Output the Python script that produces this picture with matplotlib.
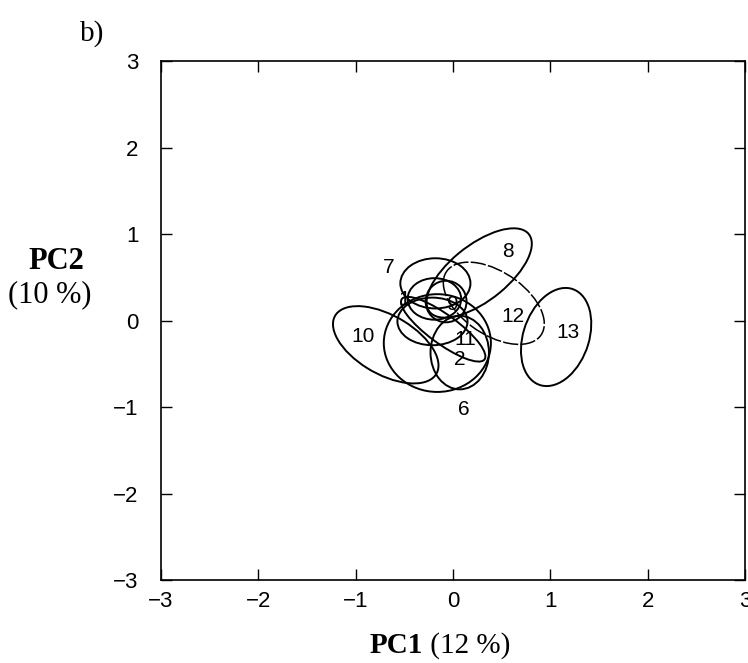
import matplotlib.pyplot as plt
from matplotlib.patches import Ellipse

# ellipse parameters in PC units (centre, full width, full height, tilt)
ell_cx = [-0.21, 0.07, -0.19, -0.16, -0.18, 0.27, -0.07, -0.69, -0.10, 0.42, 1.06]
ell_cy = [-0.01, -0.37, 0.25, -0.26, 0.43, 0.55, 0.22, -0.28, -0.10, 0.20, -0.19]
ell_w = [0.72, 0.60, 0.55, 1.10, 0.72, 1.36, 0.42, 1.24, 1.10, 1.22, 1.16]
ell_h = [0.55, 0.85, 0.48, 1.13, 0.58, 0.62, 0.48, 0.66, 0.32, 0.70, 0.68]
ell_ang = [0, 0, 0, 0, 0, 43, 0, -35, -40, -40, 75]
ell_dashed = [False] * 9 + [True, False]

# group numbers and where they are written
lab_txt = ["1", "2", "6", "7", "8", "9", "10", "11", "12", "13"]
lab_x = [-0.50, 0.07, 0.11, -0.66, 0.56, 0.00, -0.92, 0.13, 0.62, 1.18]
lab_y = [0.24, -0.45, -1.03, 0.61, 0.80, 0.18, -0.18, -0.22, 0.05, -0.14]

ticks = [-3, -2, -1, 0, 1, 2, 3]

fig = plt.figure(figsize=(7.48, 6.63), dpi=100)
ax = fig.add_axes([0.215, 0.125, 0.781, 0.783])

for i in range(len(ell_cx)):
    e = Ellipse((ell_cx[i], ell_cy[i]), ell_w[i], ell_h[i], angle=ell_ang[i],
                fill=False, edgecolor="black",
                lw=1.1 if ell_dashed[i] else 1.4,
                ls=(0, (10, 1.5)) if ell_dashed[i] else "-")
    ax.add_patch(e)

for t, x, y in zip(lab_txt, lab_x, lab_y):
    ax.text(x, y, t, ha="center", va="center", fontsize=15,
            family="Liberation Sans")

ax.set_xlim(-3, 3)
ax.set_ylim(-3, 3)
ax.set_xticks(ticks)
ax.set_yticks(ticks)
ax.set_xticklabels([str(t).replace("-", "\u2212") for t in ticks])
ax.set_yticklabels([str(t).replace("-", "\u2212") for t in ticks])
ax.tick_params(direction="in", length=8, width=1, top=True, right=True,
               labelsize=16)
ax.tick_params(axis="x", pad=8)
ax.tick_params(axis="y", pad=16)
for lbl in ax.get_xticklabels() + ax.get_yticklabels():
    lbl.set_family("Liberation Sans")
for s in ax.spines.values():
    s.set_linewidth(1.2)

fig.text(0.566, 0.027, "PC1", fontsize=21, ha="right", va="center",
         family="Liberation Serif", weight="bold")
fig.text(0.566, 0.027, " (12 %)", fontsize=21, ha="left", va="center",
         family="Liberation Serif")
fig.text(0.075, 0.605, "PC2", fontsize=22, ha="center", va="center",
         family="Liberation Serif", weight="bold")
fig.text(0.066, 0.555, "(10 %)", fontsize=22, ha="center", va="center",
         family="Liberation Serif")
fig.text(0.107, 0.95, "b)", fontsize=21, ha="left", va="center",
         family="Liberation Serif")

fig.savefig("out.png", dpi=100)
